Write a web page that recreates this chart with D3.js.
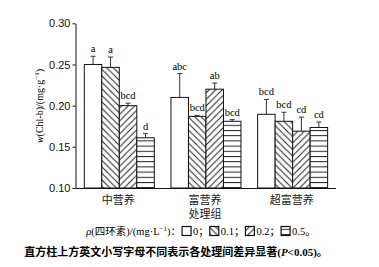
<!DOCTYPE html>
<html>
<head>
<meta charset="utf-8">
<script src="https://cdn.jsdelivr.net/npm/d3@7"></script>
<style>
  body { margin: 0; background: #fff; }
  svg { font-family: "Liberation Serif", "Noto Sans CJK SC", serif; }
</style>
</head>
<body>
<div id="chart"></div>
<script>
// Data
const groups = ["中营养", "富营养", "超富营养"];
const series = ["0", "0.1", "0.2", "0.5"];
const means = [
    [0.250, 0.2465, 0.200, 0.161],
    [0.210, 0.187, 0.220, 0.181],
    [0.1895, 0.181, 0.169, 0.1735]
];
const errors = [
    [0.010, 0.0125, 0.003, 0.005],
    [0.029, 0.0012, 0.0075, 0.002],
    [0.018, 0.011, 0.017, 0.0065]
];
const letters = [
    ["a", "a", "bcd", "d"],
    ["abc", "bcd", "ab", "bcd"],
    ["bcd", "bcd", "cd", "cd"]
];
const yTicks = [0.10, 0.15, 0.20, 0.25, 0.30];

const width = 379, height = 267;
const fills = ["#fff", "url(#p-back)", "url(#p-fwd)", "url(#p-hor)"];

const svg = d3.select("#chart").append("svg")
    .attr("width", width)
    .attr("height", height);

// hatch patterns
const defs = svg.append("defs");
const pw = 6.5;
function addPattern(id, w, h, d) {
    const p = defs.append("pattern").attr("id", id)
        .attr("patternUnits", "userSpaceOnUse")
        .attr("width", w).attr("height", h);
    p.append("rect").attr("width", w).attr("height", h).attr("fill", "#fff");
    p.append("path").attr("d", d).attr("stroke", "#222").attr("stroke-width", 1).attr("fill", "none");
}
addPattern("p-back", pw, pw, `M0,0L${pw},${pw}M${-pw/2},${pw/2}L${pw/2},${pw*1.5}M${pw/2},${-pw/2}L${pw*1.5},${pw/2}`);
addPattern("p-fwd", pw, pw, `M0,${pw}L${pw},0M${-pw/2},${pw/2}L${pw/2},${-pw/2}M${pw/2},${pw*1.5}L${pw*1.5},${pw/2}`);
addPattern("p-hor", 6, 5.2, "M0,0.5L6,0.5");

// Scales
const x0 = d3.scaleBand().domain(groups).range([76, 336]).padding(0);
const x1 = d3.scaleBand().domain(series).range([8.3, 78.3]).padding(0);
const y = d3.scaleLinear().domain([0.10, 0.30]).range([188, 23.3]);

// Bars
const rows = [];
groups.forEach((g, gi) => series.forEach((s, si) => rows.push({
    g, s, si, v: means[gi][si], e: errors[gi][si], lab: letters[gi][si]
})));

const bars = svg.append("g").attr("class", "bars");
bars.selectAll("rect").data(rows).join("rect")
    .attr("x", d => x0(d.g) + x1(d.s))
    .attr("y", d => y(d.v))
    .attr("width", x1.bandwidth())
    .attr("height", d => y(0.10) - y(d.v))
    .attr("fill", d => fills[d.si])
    .attr("stroke", "#111")
    .attr("stroke-width", 1);

// Error bars (upper only)
const err = svg.append("g").attr("class", "errors").attr("stroke", "#333").attr("stroke-width", 1);
rows.forEach(d => {
    const cx = x0(d.g) + x1(d.s) + x1.bandwidth() / 2;
    err.append("line").attr("x1", cx).attr("x2", cx).attr("y1", y(d.v)).attr("y2", y(d.v + d.e));
    err.append("line").attr("x1", cx - 2.5).attr("x2", cx + 2.5).attr("y1", y(d.v + d.e)).attr("y2", y(d.v + d.e));
});

// Letters
svg.append("g").selectAll("text").data(rows).join("text")
    .attr("x", d => x0(d.g) + x1(d.s) + x1.bandwidth() / 2)
    .attr("y", d => y(d.v + d.e) - 4)
    .attr("text-anchor", "middle")
    .style("font-size", "10.5px")
    .text(d => d.lab);

// Axes
const yAxis = svg.append("g").attr("transform", "translate(75.5,0)")
    .call(d3.axisLeft(y).tickValues(yTicks).tickFormat(d3.format(".2f")).tickSize(3).tickPadding(2).tickSizeOuter(0));
yAxis.selectAll("text").style("font-size", "11px").attr("fill", "#111");
yAxis.select(".domain").attr("stroke", "#111");
yAxis.selectAll(".tick line").attr("stroke", "#111");

svg.append("line").attr("x1", 75.5).attr("x2", 336).attr("y1", 188.5).attr("y2", 188.5)
    .attr("stroke", "#111");

// Category labels
svg.append("g").selectAll("text").data(groups).join("text")
    .attr("x", d => x0(d) + x0.bandwidth() / 2 - 1)
    .attr("y", 204)
    .attr("text-anchor", "middle")
    .style("font-size", "11px")
    .attr("fill", "#222")
    .text(d => d);

svg.append("text").attr("x", 205).attr("y", 218).attr("text-anchor", "middle")
    .style("font-size", "11px").attr("fill", "#222").text("处理组");

// y label
const yl = svg.append("text")
    .attr("transform", "translate(43,106) rotate(-90)")
    .attr("text-anchor", "middle")
    .style("font-size", "10px");
yl.append("tspan").style("font-style", "italic").text("w");
yl.append("tspan").text("(Chl-b)/(mg·g");
yl.append("tspan").attr("dy", -4).style("font-size", "7px").text("−1");
yl.append("tspan").attr("dy", 4).text(")");

// Legend
const legend = svg.append("g").style("font-size", "10.5px");
let lx = 0;
const ly = 235;
function legText(parts) {
    const t = legend.append("text").attr("x", lx).attr("y", ly);
    parts.forEach(p => {
        const ts = t.append("tspan").text(p.t);
        if (p.i) ts.style("font-style", "italic");
        if (p.sup) ts.attr("dy", -4).style("font-size", "7px");
        if (p.down) ts.attr("dy", 4);
    });
    lx += t.node().getComputedTextLength();
}
function legBox(si) {
    legend.append("rect").attr("x", lx + 1).attr("y", ly - 8.5).attr("width", 9).attr("height", 9)
        .attr("fill", fills[si]).attr("stroke", "#111").attr("stroke-width", 1.2);
    lx += 12;
}
legText([{ t: "ρ", i: true }, { t: "(四环素)/(mg·L" }, { t: "−1", sup: true }, { t: ")：", down: true }]);
series.forEach((s, si) => {
    legBox(si);
    legText([{ t: si < series.length - 1 ? s + "；" : s + "。" }]);
});
legend.attr("transform", `translate(${201 - lx / 2},0)`);

// Caption
const cap = svg.append("text").attr("x", 176).attr("y", 256).attr("text-anchor", "middle")
    .style("font-size", "11px").style("font-weight", "bold");
cap.append("tspan").text("直方柱上方英文小写字母不同表示各处理间差异显著(");
cap.append("tspan").style("font-style", "italic").text("P");
cap.append("tspan").text("<0.05)。");
</script>
</body>
</html>
